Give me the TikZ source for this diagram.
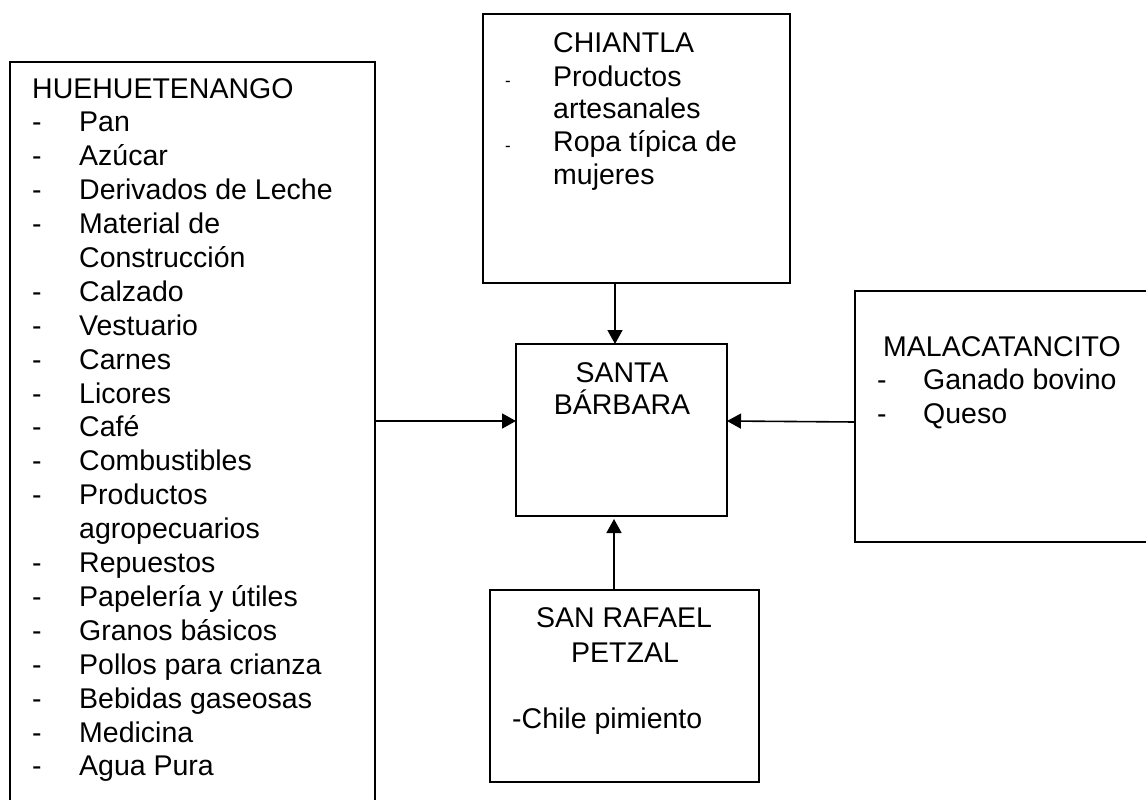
\documentclass[tikz,border=0pt]{standalone}
\usepackage{fontspec}
\setmainfont{Liberation Sans}
\usetikzlibrary{arrows.meta}
\newcommand{\smalldash}{{\fontsize{17}{17}\selectfont -}}
\begin{document}
\begin{tikzpicture}[x=1pt,y=-1pt,
  box/.style={draw, line width=1.6pt, inner sep=0pt, outer sep=0pt, anchor=north west},
  txt/.style={inner sep=0pt, anchor=base west, font=\fontsize{28.5}{33.9}\selectfont},
  ctxt/.style={inner sep=0pt, anchor=base, font=\fontsize{28.5}{33.9}\selectfont},
  arr/.style={line width=1.6pt, -{Triangle[length=14pt,width=15pt]}}]
\useasboundingbox (0,0) rectangle (1146,800);
\clip (0,0) rectangle (1146,800);
% boxes
\node[box, minimum width=365pt, minimum height=790pt] (hue) at (10,62) {};
\node[box, minimum width=307pt, minimum height=269pt] (chi) at (483,14) {};
\node[box, minimum width=211pt, minimum height=172pt] (sb) at (516,344) {};
\node[box, minimum width=320pt, minimum height=251pt] (mal) at (855,291) {};
\node[box, minimum width=269pt, minimum height=192pt] (sr) at (490,590) {};
% texts
\node[txt] (huet) at (32,98) {\begin{tabular}[t]{@{}p{47pt}@{}l@{}}
\multicolumn{2}{@{}l@{}}{HUEHUETENANGO}\\
- & Pan\\
- & Azúcar\\
- & Derivados de Leche\\
- & Material de\\
  & Construcción\\
- & Calzado\\
- & Vestuario\\
- & Carnes\\
- & Licores\\
- & Café\\
- & Combustibles\\
- & Productos\\
  & agropecuarios\\
- & Repuestos\\
- & Papelería y útiles\\
- & Granos básicos\\
- & Pollos para crianza\\
- & Bebidas gaseosas\\
- & Medicina\\
- & Agua Pura
\end{tabular}};
\node[txt, font=\fontsize{28.5}{33}\selectfont] (chit) at (505,53) {\begin{tabular}[t]{@{}p{48pt}@{}l@{}}
 & CHIANTLA\\
\smalldash & Productos\\
 & artesanales\\
\smalldash & Ropa típica de\\
 & mujeres
\end{tabular}};
\node[txt] (malt) at (877,356) {\begin{tabular}[t]{@{}p{46pt}@{}l@{}}
\multicolumn{2}{@{}l@{}}{\hspace*{6pt}MALACATANCITO}\\
- & Ganado bovino\\
- & Queso
\end{tabular}};
\node[ctxt] (sbt1) at (622,382) {SANTA};
\node[ctxt] (sbt2) at (622,414) {BÁRBARA};
\node[ctxt] (srt1) at (624,627) {SAN RAFAEL};
\node[ctxt] (srt2) at (625,662) {PETZAL};
\node[txt] (srt3) at (512,728) {-Chile pimiento};
% connectors
\draw[arr] ([xshift=-6.5pt]sb.north |- chi.south) -- ([xshift=-6.5pt]sb.north);
\draw[arr] ([xshift=-7.5pt]sb.south |- sr.north) -- ([xshift=-7.5pt,yshift=-3pt]sb.south);
\draw[arr] ([yshift=9pt]sb.west -| hue.east) -- ([yshift=9pt]sb.west);
\draw[arr] ([yshift=8pt]sb.east -| mal.west) -- ([yshift=9pt]sb.east);
\end{tikzpicture}
\end{document}
